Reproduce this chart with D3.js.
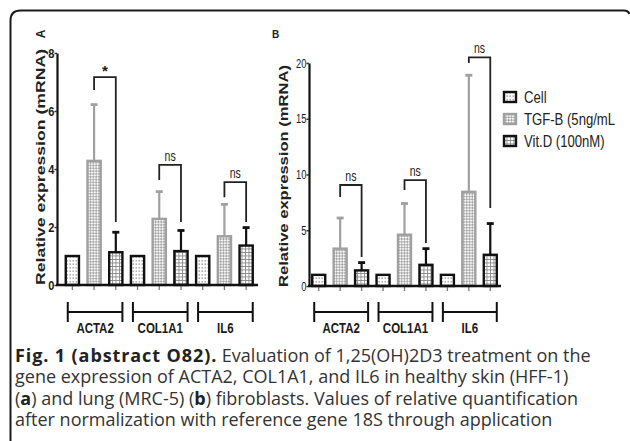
<!DOCTYPE html>
<html>
<head>
<meta charset="utf-8">
<script src="https://cdn.jsdelivr.net/npm/d3@7"></script>
<style>
  body { margin: 0; background: #fff; }
  svg { display: block; }
  text { font-family: "Liberation Sans", Arial, sans-serif; }
</style>
</head>
<body>
<svg width="630" height="441"></svg>
<script>
// data
const genes = ["ACTA2", "COL1A1", "IL6"];
const treatments = ["Cell", "TGF-B (5ng/mL", "Vit.D (100nM)"];

// panel A (HFF-1), mean per gene x treatment and top of error bar
const meanA = [[1.0, 4.28, 1.13], [1.0, 2.28, 1.17], [1.0, 1.68, 1.36]];
const errA = [[1.0, 6.22, 1.82], [1.0, 3.22, 1.88], [1.0, 2.78, 1.98]];
const ticksA = [0, 2, 4, 6, 8];
const sigA = [
  { gene: 0, label: "*", top: 7.17, left: 6.72, right: 2.17 },
  { gene: 1, label: "ns", top: 4.14, left: 3.62, right: 2.17 },
  { gene: 2, label: "ns", top: 3.55, left: 3.03, right: 2.17 }
];

// panel B (MRC-5)
const meanB = [[1.0, 3.35, 1.4], [1.0, 4.6, 1.9], [1.0, 8.45, 2.8]];
const errB = [[1.0, 6.1, 2.1], [1.0, 7.4, 3.35], [1.0, 18.9, 5.6]];
const ticksB = [0, 5, 10, 15, 20];
const sigB = [
  { gene: 0, label: "ns", top: 9.06, left: 7.98, right: 2.6 },
  { gene: 1, label: "ns", top: 9.5, left: 8.6, right: 3.86 },
  { gene: 2, label: "ns", top: 20.5, left: 20.0, right: 7.0 }
];

const captionLines = [
  [["Fig. 1 (abstract O82).", true], [" Evaluation of 1,25(OH)2D3 treatment on the", false]],
  [["gene expression of ACTA2, COL1A1, and IL6 in healthy skin (HFF-1)", false]],
  [["(", false], ["a", true], [") and lung (MRC-5) (", false], ["b", true], [") fibroblasts. Values of relative quantification", false]],
  [["after normalization with reference gene 18S through application", false]]
];

const svg = d3.select("svg");

// fill patterns
const defs = svg.append("defs");
const pDots = defs.append("pattern").attr("id", "dots")
  .attr("patternUnits", "userSpaceOnUse").attr("width", 3).attr("height", 3.5);
pDots.append("rect").attr("x", 0.5).attr("y", 1.2).attr("width", 1.4).attr("height", 1.1).attr("fill", "#777");

const pCheck = defs.append("pattern").attr("id", "check")
  .attr("patternUnits", "userSpaceOnUse").attr("width", 4).attr("height", 4)
  .attr("patternTransform", "rotate(45)");
pCheck.append("rect").attr("width", 4).attr("height", 4).attr("fill", "#f4f4f4");
pCheck.append("rect").attr("width", 2).attr("height", 2).attr("fill", "#a8a8a8");
pCheck.append("rect").attr("x", 2).attr("y", 2).attr("width", 2).attr("height", 2).attr("fill", "#a8a8a8");

const pGrid = defs.append("pattern").attr("id", "grid")
  .attr("patternUnits", "userSpaceOnUse").attr("width", 3.5).attr("height", 3.5);
pGrid.append("path").attr("d", "M0,0.5H3.5M0.5,0V3.5").attr("stroke", "#888").attr("stroke-width", 0.9);

const fills = ["url(#dots)", "url(#check)", "url(#grid)"];
const strokes = ["#111", "#a0a0a0", "#111"];

// condensed text: Liberation Sans squeezed horizontally
function narrow(parent, x, y, str, size, opts = {}) {
  const g = parent.append("g").attr("transform", `translate(${x},${y}) scale(${opts.sx || 0.78},1)`);
  return g.append("text")
    .attr("text-anchor", opts.anchor || "start")
    .style("font-size", size + "px")
    .style("font-weight", opts.bold ? "bold" : "normal")
    .attr("fill", opts.fill || "#1a1a1a")
    .text(str);
}

// frame
svg.append("path")
  .attr("d", "M10.5,441 V20.5 Q10.5,10.5 20.5,10.5 H624 Q628,10.5 629.5,14")
  .attr("fill", "none").attr("stroke", "#1a1a1a").attr("stroke-width", 2);

function drawPanel(cfg) {
  const g = svg.append("g");
  const y = d3.scaleLinear().domain(cfg.domain).range([cfg.y0, cfg.y1]);
  const x = d3.scaleBand().domain(d3.range(9)).range(cfg.xr)
    .paddingInner(0.3).paddingOuter(0.15);

  const rows = [];
  cfg.mean.forEach((m, gi) => m.forEach((v, ti) => {
    rows.push({ gi, ti, idx: gi * 3 + ti, v, e: cfg.err[gi][ti] });
  }));

  // y label
  g.append("text")
    .attr("transform", `translate(${cfg.labelX},${cfg.labelMid}) rotate(-90)`)
    .attr("text-anchor", "middle")
    .attr("textLength", cfg.labelLen).attr("lengthAdjust", "spacingAndGlyphs")
    .style("font-size", "13px").style("font-weight", "bold").attr("fill", "#222")
    .text("Relative expression (mRNA)");

  // error bars (behind bars)
  const eb = g.append("g");
  rows.filter(d => d.e > d.v).forEach(d => {
    const cx = x(d.idx) + x.bandwidth() / 2;
    eb.append("line").attr("x1", cx).attr("x2", cx)
      .attr("y1", y(d.v)).attr("y2", y(d.e))
      .attr("stroke", strokes[d.ti]).attr("stroke-width", 2.2);
    eb.append("line").attr("x1", cx - 3.5).attr("x2", cx + 3.5)
      .attr("y1", y(d.e)).attr("y2", y(d.e))
      .attr("stroke", strokes[d.ti]).attr("stroke-width", 2.8);
  });

  // bars
  g.append("g").selectAll("rect").data(rows).join("rect")
    .attr("x", d => x(d.idx) + 1)
    .attr("y", d => y(d.v))
    .attr("width", x.bandwidth() - 2)
    .attr("height", d => y(0) - y(d.v))
    .attr("fill", d => fills[d.ti])
    .attr("stroke", d => strokes[d.ti])
    .attr("stroke-width", 2.4);

  // y axis
  const ya = g.append("g").attr("transform", `translate(${cfg.axisX},0)`)
    .call(d3.axisLeft(y).tickValues(cfg.ticks).tickSize(2.5).tickSizeOuter(0).tickFormat(""));
  ya.select(".domain").attr("stroke", "#111").attr("stroke-width", 2.2);
  ya.selectAll(".tick line").attr("stroke", "#333").attr("stroke-width", 1.5);
  cfg.ticks.forEach(t => {
    narrow(g, cfg.axisX - 2.5, y(t) + 4.5, String(t), cfg.tickSize,
      { anchor: "end", bold: cfg.tickBold, sx: cfg.tickSx });
  });

  // x axis: baseline + small ticks under bars
  const xa = g.append("g").attr("transform", `translate(0,${y(0)})`)
    .call(d3.axisBottom(x).tickSize(5).tickFormat(""));
  xa.select(".domain").remove();
  xa.selectAll(".tick line").attr("stroke", "#777").attr("stroke-width", 1.3);
  g.append("line").attr("x1", cfg.axisX - 1).attr("x2", cfg.xEnd)
    .attr("y1", y(0)).attr("y2", y(0)).attr("stroke", "#111").attr("stroke-width", 2.5);

  // gene brackets under the axis
  genes.forEach((name, gi) => {
    const xl = x(gi * 3) + 3;
    const xr = x(gi * 3 + 2) + x.bandwidth() - 1;
    g.append("path")
      .attr("d", `M${xl},302V322M${xl},312H${xr}M${xr},302V322`)
      .attr("fill", "none").attr("stroke", "#111").attr("stroke-width", 2);
    narrow(g, (xl + xr) / 2, 333, name, 14, { anchor: "middle", bold: true, sx: 0.82 });
  });

  // significance brackets
  cfg.sig.forEach(s => {
    const xl = x(s.gene * 3 + 1) + x.bandwidth() / 2;
    const xr = x(s.gene * 3 + 2) + x.bandwidth() / 2;
    g.append("path")
      .attr("d", `M${xl},${y(s.left)}V${y(s.top)}H${xr}V${y(s.right)}`)
      .attr("fill", "none").attr("stroke", "#222").attr("stroke-width", 1.8);
    if (s.label === "*") {
      narrow(g, (xl + xr) / 2, y(s.top) - 1, s.label, 15, { anchor: "middle", bold: true, sx: 1 });
    } else {
      narrow(g, (xl + xr) / 2, y(s.top) - 4, s.label, 14, { anchor: "middle", sx: 0.75 });
    }
  });
}

drawPanel({
  domain: [0, 8], y0: 285, y1: 53, xr: [61.5, 257], axisX: 57, xEnd: 258,
  mean: meanA, err: errA, ticks: ticksA, sig: sigA,
  tickSize: 13, tickBold: true, tickSx: 0.85,
  labelX: 45, labelMid: 167, labelLen: 236
});
drawPanel({
  domain: [0, 20], y0: 286, y1: 63, xr: [308, 501], axisX: 309, xEnd: 501,
  mean: meanB, err: errB, ticks: ticksB, sig: sigB,
  tickSize: 13, tickBold: false, tickSx: 0.72,
  labelX: 288, labelMid: 176, labelLen: 222
});

// panel letters
svg.append("text").attr("transform", "translate(45,34) rotate(-90)")
  .attr("text-anchor", "middle")
  .style("font-size", "12px").style("font-weight", "bold").attr("fill", "#222").text("A");
svg.append("text").attr("x", 272).attr("y", 38)
  .style("font-size", "10px").style("font-weight", "bold").attr("fill", "#222").text("B");

// legend
const leg = svg.append("g").attr("transform", "translate(503,0)");
treatments.forEach((t, i) => {
  const cy = 97 + i * 22;
  leg.append("rect").attr("x", 1).attr("y", cy - 5).attr("width", 12).attr("height", 10)
    .attr("fill", fills[i]).attr("stroke", strokes[i]).attr("stroke-width", 2.4);
  narrow(leg, 21, cy + 5.5, t, 16, { sx: 0.82, fill: "#222" });
});

// caption
const cap = svg.append("g");
captionLines.forEach((parts, i) => {
  const t = cap.append("text").attr("x", 15).attr("y", 362 + i * 21.4)
    .style("font-family", "'Open Sans', sans-serif").style("font-size", "18px")
    .attr("fill", "#333");
  parts.forEach(([txt, bold]) => {
    t.append("tspan").text(txt)
      .style("font-weight", bold ? "bold" : "normal")
      .style("letter-spacing", bold && txt.length > 3 ? "0.9px" : "0px")
      .attr("fill", bold ? "#222" : "#333");
  });
});
</script>
</body>
</html>
